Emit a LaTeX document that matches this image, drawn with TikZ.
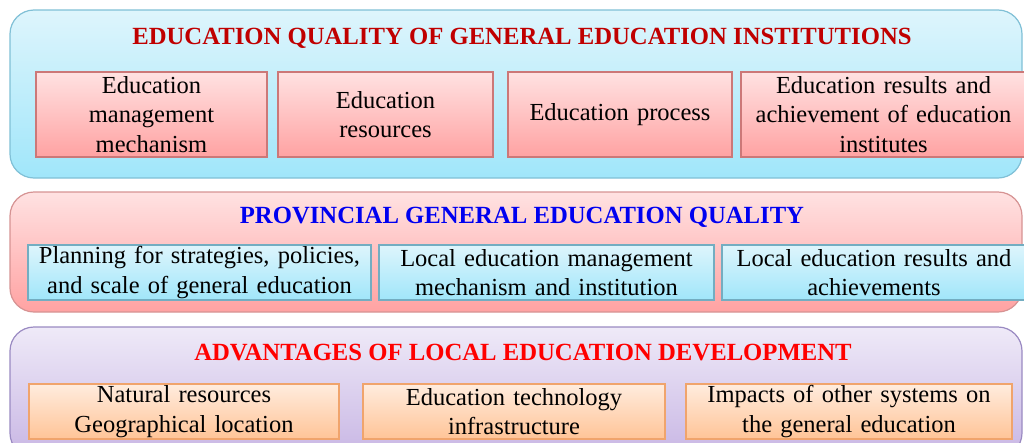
\documentclass[tikz,border=0pt]{standalone}
\usepackage{fontspec}
\setmainfont{Liberation Serif}
\usepackage{tikz}
\usetikzlibrary{positioning,shadings}
\definecolor{cyanT}{HTML}{DEF5FC}
\definecolor{cyanB}{HTML}{A0E6FA}
\definecolor{cyanD}{HTML}{80C0D6}
\definecolor{pinkT}{HTML}{FFE2E2}
\definecolor{pinkB}{HTML}{FFA2A2}
\definecolor{pinkD}{HTML}{CC7878}
\definecolor{lavT}{HTML}{EFEAF8}
\definecolor{lavB}{HTML}{C8B6E4}
\definecolor{lavD}{HTML}{9A8AC2}
\definecolor{orT}{HTML}{FFECDE}
\definecolor{orB}{HTML}{FFC497}
\definecolor{orD}{HTML}{F0A46C}
\definecolor{titleA}{HTML}{C00000}
\definecolor{titleB}{HTML}{0000F0}
\definecolor{titleC}{HTML}{FF0000}
\tikzset{%
	panel/.style  = {draw, line width=1.2pt, rounded corners=24pt, inner sep=0pt, outer sep=0pt},
	item/.style   = {draw, line width=1.2pt, inner sep=0pt, outer sep=0pt, align=center,
	                 font=\fontsize{24.5}{29.5}\selectfont},
	head/.style   = {font=\fontsize{24.7}{28}\selectfont\bfseries, inner sep=0pt},
	cyanpanel/.style = {panel, draw=cyanD, top color=cyanT, bottom color=cyanB},
	pinkpanel/.style = {panel, draw=pinkD!80, top color=pinkT, bottom color=pinkB},
	lavpanel/.style  = {panel, draw=lavD, top color=lavT, bottom color=lavB},
	pinkitem/.style  = {item, draw=pinkD, top color=pinkT, bottom color=pinkB},
	cyanitem/.style  = {item, draw=cyanD!90!black, top color=cyanT, bottom color=cyanB},
	oritem/.style    = {item, draw=orD, top color=orT, bottom color=orB},
}
\begin{document}
\begin{tikzpicture}[x=1pt,y=-1pt]
	\useasboundingbox (0,0) rectangle (1024,442);
	\clip (0,0) rectangle (1024,442);
	% panels
	\node[cyanpanel, minimum width=1012pt, minimum height=168pt] (quality) at (516,94) {};
	\node[pinkpanel, minimum width=1012pt, minimum height=120pt] (province) at (516,252) {};
	\node[lavpanel, minimum width=1012pt, minimum height=130pt] (advantage) at (516,392) {};
	% titles
	\node[head, text=titleA] (qualitytitle) at (522,38) {EDUCATION QUALITY OF GENERAL EDUCATION INSTITUTIONS};
	\node[head, text=titleB] (provincetitle) at (522,217) {PROVINCIAL GENERAL EDUCATION QUALITY};
	\node[head, text=titleC] (advantagetitle) at (523,353) {ADVANTAGES OF LOCAL EDUCATION DEVELOPMENT};
	% institution items
	\node[pinkitem, minimum width=231pt, minimum height=85pt, text width=225pt] (mechanism) at (151.5,114.5) {Education\\management\\mechanism};
	\node[pinkitem, minimum width=215pt, minimum height=85pt, text width=209pt] (resources) at (385.5,114.5) {Education\\resources};
	\node[pinkitem, minimum width=224pt, minimum height=85pt, text width=218pt] (process) at (620,114.5) {Education process};
	\node[pinkitem, minimum width=285pt, minimum height=85pt, text width=279pt] (results) at (883.5,114.5) {Education results and\\achievement of education\\institutes};
	% provincial items
	\node[cyanitem, minimum width=343pt, minimum height=55pt, text width=337pt] (planning) at (199.5,272.5) {Planning for strategies, policies,\\and scale of general education};
	\node[cyanitem, minimum width=335pt, minimum height=55pt, text width=329pt] (localmgmt) at (546.5,272.5) {Local education management\\mechanism and institution};
	\node[cyanitem, minimum width=304pt, minimum height=55pt, text width=298pt] (localres) at (874,272.5) {Local education results and\\achievements};
	% advantage items
	\node[oritem, minimum width=310pt, minimum height=55pt, text width=304pt] (natural) at (184,411.5) {Natural resources\\Geographical location};
	\node[oritem, minimum width=302pt, minimum height=55pt, text width=296pt] (techinfra) at (514,411.5) {Education technology\\infrastructure};
	\node[oritem, minimum width=326pt, minimum height=55pt, text width=320pt] (impacts) at (849,411.5) {Impacts of other systems on\\the general education};
\end{tikzpicture}
\end{document}
